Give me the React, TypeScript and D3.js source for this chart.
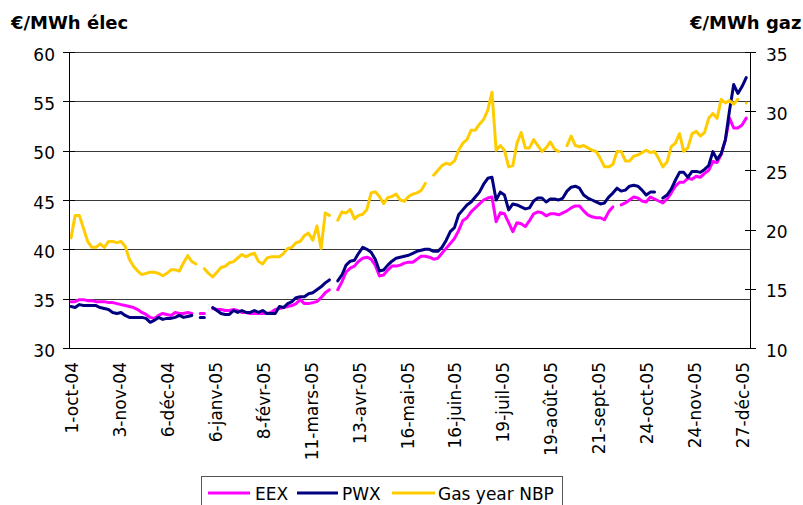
import React from "react";
import * as d3 from "d3";

// x-axis labels, one every 23 trading days
const tickLabels = [
	"1-oct-04", "3-nov-04", "6-déc-04", "6-janv-05", "8-févr-05", "11-mars-05", "13-avr-05",
	"16-mai-05", "16-juin-05", "19-juil-05", "19-août-05", "21-sept-05", "24-oct-05", "24-nov-05", "27-déc-05",
];
const leftTicks = [30, 35, 40, 45, 50, 55, 60];
const rightTicks = [10, 15, 20, 25, 30, 35];

// one value every 2 trading days, null = no quote
const eex = [
	34.7, 34.7, 34.9, 34.9, 34.8, 34.8, 34.7, 34.7, 34.7, 34.6, 34.6, 34.5, 34.4, 34.3, 34.2, 34.1, 33.9, 33.6, 33.4, 33.1,
	33.0, 33.3, 33.5, 33.4, 33.3, 33.6, 33.5, 33.5, 33.6, 33.5, null, 33.5, 33.5, null, 34.0, 33.9, 33.9, 33.8, 33.8, 33.9,
	33.8, 33.6, 33.6, 33.5, 33.5, 33.5, 33.5, 33.5, 33.6, 33.9, 34.0, 34.1, 34.2, 34.3, 34.5, 34.9, 34.5, 34.5, 34.6, 34.7,
	35.1, 35.6, 35.9, null, 35.9, 36.7, 37.7, 38.1, 38.3, 38.8, 39.1, 39.2, 39.0, 38.4, 37.3, 37.4, 37.9, 38.3, 38.3, 38.4,
	38.6, 38.7, 38.7, 39.0, 39.3, 39.3, 39.2, 39.0, 39.1, 39.6, 40.1, 40.6, 41.1, 41.9, 42.9, 43.2, 43.8, 44.2, 44.6, 45.0,
	45.2, 45.3, 42.8, 43.7, 43.6, 42.7, 41.8, 42.7, 42.6, 42.3, 42.9, 43.6, 43.8, 43.7, 43.4, 43.6, 43.6, 43.5, 43.7, 43.9,
	44.2, 44.4, 44.4, 43.9, 43.5, 43.3, 43.2, 43.2, 43.0, 43.8, 44.3, null, 44.5, 44.7, 45.0, 45.3, 45.2, 44.9, 44.8, 45.3,
	45.1, 44.9, 44.7, 45.1, 45.7, 46.4, 46.8, 46.8, 47.2, 47.1, 47.4, 47.3, 47.7, 48.0, 48.9, 48.8, 49.6, 51.1, 53.3, 52.3,
	52.3, 52.6, 53.3,
];
const pwx = [
	34.2, 34.1, 34.4, 34.3, 34.3, 34.3, 34.3, 34.1, 34.0, 33.9, 33.6, 33.5, 33.6, 33.3, 33.1, 33.1, 33.1, 33.1, 33.0, 32.6,
	32.8, 33.1, 32.9, 33.0, 33.0, 33.1, 33.3, 33.1, 33.2, 33.3, null, 33.1, 33.1, null, 34.1, 33.8, 33.5, 33.4, 33.4, 33.8,
	33.6, 33.8, 33.6, 33.6, 33.8, 33.6, 33.8, 33.5, 33.5, 33.5, 34.2, 34.1, 34.5, 34.7, 35.1, 35.2, 35.2, 35.5, 35.6, 35.9,
	36.2, 36.6, 36.9, null, 36.8, 37.4, 38.4, 38.8, 38.9, 39.6, 40.2, 40.0, 39.7, 39.0, 37.8, 37.9, 38.4, 38.8, 39.1, 39.2,
	39.3, 39.4, 39.6, 39.8, 39.9, 40.0, 40.0, 39.8, 39.8, 40.2, 40.9, 41.8, 42.2, 43.5, 44.0, 44.5, 44.8, 45.3, 45.8, 46.6,
	47.2, 47.3, 45.0, 45.8, 45.5, 44.0, 44.6, 44.5, 44.3, 44.1, 44.2, 44.9, 45.2, 45.2, 44.8, 45.1, 45.1, 45.0, 45.2, 45.9,
	46.3, 46.4, 46.2, 45.5, 45.2, 45.0, 44.8, 44.6, 44.7, 45.3, 45.7, 46.2, 45.9, 46.0, 46.4, 46.5, 46.4, 46.0, 45.5, 45.8,
	45.8, null, 45.2, 45.5, 46.1, 47.0, 47.8, 47.8, 47.3, 47.9, 47.9, 47.8, 48.1, 48.5, 49.9, 49.1, 49.7, 51.1, 54.1, 56.7,
	55.8, 56.5, 57.4,
];
const gasNbp = [
	19.3, 21.2, 21.2, 20.1, 19.0, 18.5, 18.5, 18.8, 18.5, 19.0, 19.0, 18.9, 19.0, 18.6, 17.5, 16.9, 16.5, 16.2, 16.3, 16.4,
	16.4, 16.3, 16.1, 16.3, 16.6, 16.6, 16.5, 17.2, 17.8, 17.3, 17.1, null, 16.7, 16.3, 16.0, 16.4, 16.8, 16.9, 17.2, 17.3,
	17.6, 17.9, 17.7, 17.9, 18.0, 17.3, 17.1, 17.6, 17.7, 17.7, 17.7, 18.0, 18.4, 18.5, 18.9, 19.0, 19.5, 19.7, 19.1, 20.3,
	18.4, 21.4, 21.2, null, 20.8, 21.5, 21.4, 21.7, 20.9, 21.2, 21.3, 21.7, 23.1, 23.2, 22.8, 22.2, 22.7, 22.8, 23.0, 22.5,
	22.4, 22.8, 23.0, 23.1, 23.3, 23.9, null, 24.6, 25.0, 25.4, 25.6, 25.5, 25.8, 26.7, 27.3, 27.6, 28.4, 28.4, 28.9, 29.3,
	30.1, 31.6, 26.7, 27.1, 26.7, 25.3, 25.4, 27.3, 28.2, 26.9, 26.9, 27.6, 27.1, 26.6, 26.9, 27.4, 26.8, 26.6, null, 27.1,
	27.9, 27.1, 27.0, 27.1, 26.9, 26.7, 26.6, 26.0, 25.3, 25.3, 25.5, 26.6, 26.6, 25.8, 25.8, 26.2, 26.3, 26.5, 26.7, 26.5,
	26.6, 26.0, 25.3, 25.7, 27.0, 27.3, 28.1, 26.6, 26.9, 28.1, 28.3, 27.9, 28.2, 29.4, 29.8, 29.4, 31.0, 30.7, 30.9, 30.6,
	31.0, null, 30.7,
];

const W = 803;
const H = 505;
const FONT = "'DejaVu Sans', Verdana, sans-serif";

export default function App() {
	const m = { left: 69, right: 750, top: 52, bottom: 348 };

	const x = d3.scaleLinear().domain([0, 325]).range([71, 748.3]);
	const yL = d3.scaleLinear().domain([30, 60]).range([m.bottom, m.top]);
	const yR = d3.scaleLinear().domain([10, 35]).range([m.bottom, m.top]);

	const lineL = d3
		.line<number | null>()
		.defined((d) => d != null)
		.x((d, i) => x(i * 2))
		.y((d) => yL(d as number));
	const lineR = d3
		.line<number | null>()
		.defined((d) => d != null)
		.x((d, i) => x(i * 2))
		.y((d) => yR(d as number));

	const series = [
		{ name: "EEX", color: "#ff00ff", path: lineL(eex) },
		{ name: "PWX", color: "#000080", path: lineL(pwx) },
		{ name: "Gas year NBP", color: "#ffcc00", path: lineR(gasNbp) },
	];

	const legend = [
		{ name: "EEX", color: "#ff00ff", x0: 208, x1: 250, tx: 255 },
		{ name: "PWX", color: "#000080", x0: 297, x1: 338, tx: 342 },
		{ name: "Gas year NBP", color: "#ffcc00", x0: 392, x1: 435, tx: 438 },
	];

	return (
		<div style={{ position: "absolute", left: 0, top: 0 }}>
			<svg width={W} height={H} style={{ display: "block", background: "#fff" }} fontFamily={FONT}>
				{/* horizontal grid */}
				{leftTicks.map((t) => (
					<line key={"g" + t} x1={m.left} x2={m.right} y1={Math.round(yL(t)) + 0.5} y2={Math.round(yL(t)) + 0.5} stroke="#3a3a3a" strokeWidth={1} />
				))}

				{/* series */}
				{series.map((s) => (
					<path key={s.name} d={s.path || ""} fill="none" stroke={s.color} strokeWidth={3} strokeLinejoin="round" strokeLinecap="round" />
				))}

				{/* left axis */}
				<line x1={m.left + 0.5} x2={m.left + 0.5} y1={m.top} y2={m.bottom + 1} stroke="#000" />
				{leftTicks.map((t) => (
					<g key={"l" + t}>
						<line x1={m.left - 6} x2={m.left + 6} y1={Math.round(yL(t)) + 0.5} y2={Math.round(yL(t)) + 0.5} stroke="#000" />
						<text x={55} y={yL(t) + 8.5} textAnchor="end" fontSize={17} fill="#000">
							{t}
						</text>
					</g>
				))}

				{/* right axis */}
				<line x1={m.right + 0.5} x2={m.right + 0.5} y1={m.top} y2={m.bottom + 1} stroke="#000" />
				{rightTicks.map((t) => (
					<g key={"r" + t}>
						<line x1={m.right - 5} x2={m.right + 6} y1={Math.round(yR(t)) + 0.5} y2={Math.round(yR(t)) + 0.5} stroke="#000" />
						<text x={766} y={yR(t) + 8.5} textAnchor="start" fontSize={17} fill="#000">
							{t}
						</text>
					</g>
				))}

				{/* bottom axis */}
				<line x1={m.left} x2={m.right + 1} y1={m.bottom + 0.5} y2={m.bottom + 0.5} stroke="#000" />
				{tickLabels.map((lab, k) => (
					<text key={lab} transform={`translate(${x(k * 23) + 7},362) rotate(-90)`} textAnchor="end" fontSize={17} fill="#000">
						{lab}
					</text>
				))}

				{/* axis titles */}
				<text x={11} y={29} fontSize={18} fontWeight="bold" fill="#000">
					€/MWh élec
				</text>
				<text x={690} y={29} fontSize={18} fontWeight="bold" fill="#000">
					€/MWh gaz
				</text>

				{/* legend */}
				<rect x={201.5} y={476.5} width={361} height={40} fill="#fff" stroke="#555" strokeWidth={1} />
				{legend.map((l) => (
					<g key={"lg" + l.name}>
						<line x1={l.x0} x2={l.x1} y1={493} y2={493} stroke={l.color} strokeWidth={3} />
						<text x={l.tx} y={500} fontSize={17} fill="#000">
							{l.name}
						</text>
					</g>
				))}
			</svg>
		</div>
	);
}
